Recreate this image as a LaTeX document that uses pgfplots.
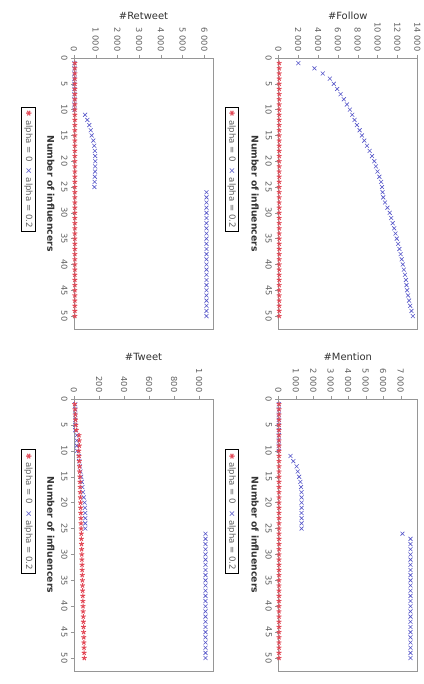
\documentclass[border=0pt]{standalone}
\usepackage{pgfplots}
\pgfplotsset{compat=1.18}
\usepackage{fontspec}
\setmainfont{DejaVu Sans}
\definecolor{redm}{RGB}{226,72,86}
\definecolor{bluem}{RGB}{85,85,200}
\definecolor{axisgray}{RGB}{150,150,150}
\definecolor{txtgray}{RGB}{95,95,95}
\definecolor{titlecol}{RGB}{50,50,50}
\newcommand{\legendnode}[2]{%
  \node[rotate=-90, draw=black, line width=0.6bp, fill=white, inner xsep=3.5bp, inner ysep=2.5bp,
        font=\fontsize{8.6}{10}\selectfont, text=txtgray]
    at (axis description cs:#1,#2)
    {{\color{redm}\fontsize{7.5}{9}\selectfont ✱}\,\,alpha = 0\hspace{6bp}{\color{bluem}×}\,\,alpha = 0.2};}
\pgfplotsset{
  panel/.style={
    scale only axis, width=139bp,
    y dir=reverse, ymin=0, ymax=52.5, xmin=0,
    ytick={0,5,...,50},
    axis line style={axisgray, line width=0.8bp},
    every tick/.style={axisgray},
    tick align=outside, major tick length=3bp,
    xtick pos=right, xticklabel pos=right,
    ytick pos=left, yticklabel pos=left,
    scaled x ticks=false,
    /pgf/number format/1000 sep={\ },
    /pgf/number format/assume math mode=true,
    tick label style={font=\fontsize{8.3}{9}\selectfont, text=txtgray},
    xticklabel style={rotate=-90, anchor=east},
    yticklabel style={rotate=-90, anchor=north},
    ylabel={\bfseries Number of influencers},
    ylabel style={rotate=180, anchor=north, font=\fontsize{9.3}{11}\selectfont, text=titlecol},
    title style={anchor=center, yshift=36bp, font=\fontsize{10}{12}\selectfont, text=titlecol},
    clip=false,
  },
  bluestyle/.style={only marks, mark=x, mark size=2.8bp, color=bluem, line width=0.6bp},
  redstyle/.style={only marks, mark=star, mark size=2.5bp, color=redm, line width=1bp},
}
\begin{document}
\begin{tikzpicture}
\useasboundingbox (0bp,0bp) rectangle (424bp,684bp);
% #Retweet
\begin{axis}[panel, at={(74bp,626bp)}, anchor=north west, height=271bp,
  xmax=6400, xtick={0,1000,...,6000}, title={\#Retweet}]
\addplot[bluestyle] coordinates {(20,1)(20,2)(20,3)(20,4)(20,5)(20,6)(20,7)(20,8)(20,9)(20,10)
(510,11)(615,12)(705,13)(770,14)(815,15)(890,16)(935,17)(960,18)(975,19)(980,20)(975,21)(970,22)(960,23)(950,24)(940,25)
(6100,26)(6100,27)(6100,28)(6100,29)(6100,30)(6100,31)(6100,32)(6100,33)(6100,34)(6100,35)(6100,36)(6100,37)(6100,38)
(6100,39)(6100,40)(6100,41)(6100,42)(6100,43)(6100,44)(6100,45)(6100,46)(6100,47)(6100,48)(6100,49)(6100,50)};
\addplot[redstyle] coordinates {(40,1)(40,2)(40,3)(40,4)(40,5)(40,6)(40,7)(40,8)(40,9)(40,10)(40,11)(40,12)(40,13)(40,14)
(40,15)(40,16)(40,17)(40,18)(40,19)(40,20)(40,21)(40,22)(40,23)(40,24)(40,25)(40,26)(40,27)(40,28)(40,29)(40,30)(40,31)
(40,32)(40,33)(40,34)(40,35)(40,36)(40,37)(40,38)(40,39)(40,40)(40,41)(40,42)(40,43)(40,44)(40,45)(40,46)(40,47)(40,48)
(40,49)(40,50)};
\legendnode{-0.328}{0.589}
\end{axis}
% #Follow
\begin{axis}[panel, at={(278.3bp,626bp)}, anchor=north west, height=271bp,
  xmax=14000, xtick={0,2000,...,14000}, title={\#Follow}]
\addplot[bluestyle] coordinates {(2020,1)(3640,2)(4480,3)(5190,4)(5590,5)(5930,6)(6270,7)(6600,8)(6910,9)(7210,10)
(7450,11)(7680,12)(7920,13)(8190,14)(8420,15)(8660,16)(8930,17)(9200,18)(9440,19)(9670,20)(9830,21)(9990,22)(10180,23)
(10350,24)(10450,25)(10500,26)(10570,27)(10750,28)(10990,29)(11220,30)(11370,31)(11520,32)(11670,33)(11800,34)(11930,35)
(12070,36)(12200,37)(12320,38)(12430,39)(12540,40)(12650,41)(12760,42)(12850,43)(12910,44)(12970,45)(13070,46)(13170,47)
(13280,48)(13410,49)(13550,50)};
\addplot[redstyle] coordinates {(90,1)(90,2)(90,3)(90,4)(90,5)(90,6)(90,7)(90,8)(90,9)(90,10)(90,11)(90,12)(90,13)(90,14)
(90,15)(90,16)(90,17)(90,18)(90,19)(90,20)(90,21)(90,22)(90,23)(90,24)(90,25)(90,26)(90,27)(90,28)(90,29)(90,30)(90,31)
(90,32)(90,33)(90,34)(90,35)(90,36)(90,37)(90,38)(90,39)(90,40)(90,41)(90,42)(90,43)(90,44)(90,45)(90,46)(90,47)(90,48)
(90,49)(90,50)};
\legendnode{-0.335}{0.589}
\end{axis}
% #Tweet
\begin{axis}[panel, at={(74bp,285bp)}, anchor=north west, height=272bp,
  xmax=1110, xtick={0,200,...,1000}, title={\#Tweet}]
\addplot[bluestyle] coordinates {(10,1)(10,2)(10,3)(10,4)(10,5)(10,6)(22,7)(22,8)(22,9)(24,10)
(38,11)(42,12)(47,13)(52,14)(57,15)(62,16)(67,17)(72,18)(78,19)(85,20)(88,21)(90,22)(90,23)(90,24)(90,25)
(1050,26)(1050,27)(1050,28)(1050,29)(1050,30)(1050,31)(1050,32)(1050,33)(1050,34)(1050,35)(1050,36)(1050,37)(1050,38)
(1050,39)(1050,40)(1050,41)(1050,42)(1050,43)(1050,44)(1050,45)(1050,46)(1050,47)(1050,48)(1050,49)(1050,50)};
\addplot[redstyle] coordinates {(5,1)(8,2)(10,3)(12,4)(15,5)(18,6)(40,7)(42,8)(42,9)(38,10)(40,11)(42,12)(44,13)(45,14)
(47,15)(48,16)(49,17)(50,18)(51,19)(52,20)(53,21)(54,22)(55,23)(56,24)(57,25)(58,26)(59,27)(60,28)(61,29)(62,30)(63,31)
(64,32)(65,33)(66,34)(67,35)(68,36)(69,37)(70,38)(71,39)(72,40)(73,41)(74,42)(75,43)(76,44)(77,45)(78,46)(79,47)(80,48)
(81,49)(82,50)};
\legendnode{-0.328}{0.586}
\end{axis}
% #Mention
\begin{axis}[panel, at={(278.3bp,285bp)}, anchor=north west, height=272bp,
  xmax=7950, xtick={0,1000,...,7000}, title={\#Mention}]
\addplot[bluestyle] coordinates {(30,1)(30,2)(30,3)(30,4)(30,5)(30,6)(30,7)(30,8)(30,9)(30,10)
(700,11)(860,12)(1050,13)(1110,14)(1190,15)(1260,16)(1300,17)(1330,18)(1330,19)(1330,20)(1330,21)(1330,22)(1330,23)(1330,24)(1330,25)
(7100,26)(7560,27)(7560,28)(7560,29)(7560,30)(7560,31)(7560,32)(7560,33)(7560,34)(7560,35)(7560,36)(7560,37)(7560,38)
(7560,39)(7560,40)(7560,41)(7560,42)(7560,43)(7560,44)(7560,45)(7560,46)(7560,47)(7560,48)(7560,49)(7560,50)};
\addplot[redstyle] coordinates {(40,1)(40,2)(40,3)(40,4)(40,5)(40,6)(40,7)(40,8)(40,9)(40,10)(40,11)(40,12)(40,13)(40,14)
(40,15)(40,16)(40,17)(40,18)(40,19)(40,20)(40,21)(40,22)(40,23)(40,24)(40,25)(40,26)(40,27)(40,28)(40,29)(40,30)(40,31)
(40,32)(40,33)(40,34)(40,35)(40,36)(40,37)(40,38)(40,39)(40,40)(40,41)(40,42)(40,43)(40,44)(40,45)(40,46)(40,47)(40,48)
(40,49)(40,50)};
\legendnode{-0.335}{0.586}
\end{axis}
\end{tikzpicture}
\end{document}
